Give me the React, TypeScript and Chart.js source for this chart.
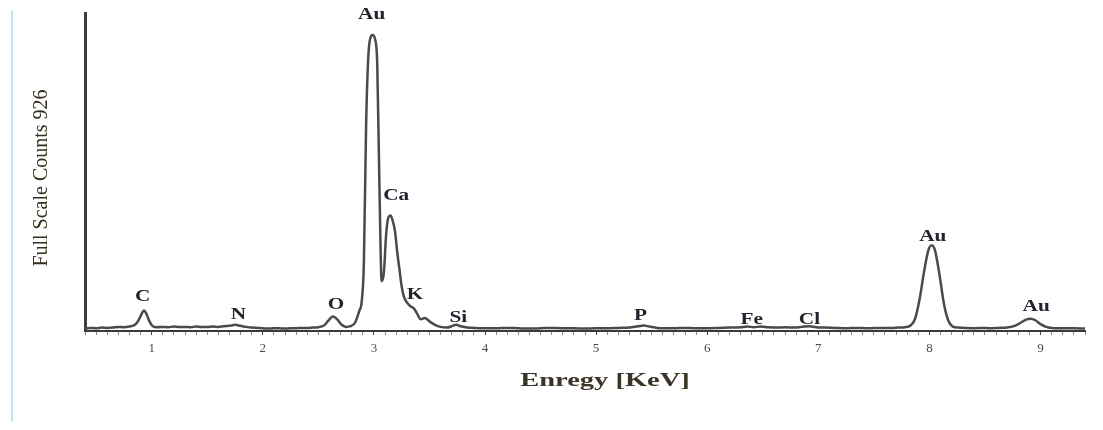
import React, { useEffect, useRef } from 'react';
import { Chart, registerables } from 'chart.js';

Chart.register(...registerables);

// Spectrum: energy (keV) and counts
const energy = [
  0.40, 0.45, 0.50, 0.55, 0.60, 0.65, 0.70, 0.75, 0.80, 0.85, 0.88, 0.91, 0.93, 0.95, 0.98,
  1.01, 1.05, 1.10, 1.15, 1.20, 1.25, 1.30, 1.35, 1.40, 1.45, 1.50, 1.55, 1.60, 1.65, 1.70,
  1.75, 1.80, 1.85, 1.90, 1.95, 2.00, 2.05, 2.10, 2.15, 2.20, 2.25, 2.30, 2.35, 2.40, 2.45,
  2.50, 2.55, 2.59, 2.63, 2.67, 2.71, 2.75, 2.79, 2.83, 2.87, 2.89, 2.91, 2.93, 2.95, 2.97,
  2.99, 3.01, 3.03, 3.05, 3.07, 3.09, 3.11, 3.13, 3.15, 3.17, 3.19, 3.21, 3.23, 3.25, 3.27,
  3.30, 3.33, 3.36, 3.39, 3.42, 3.46, 3.50, 3.55, 3.60, 3.66, 3.70, 3.74, 3.78, 3.84, 3.90,
  3.96, 4.10, 4.20, 4.30, 4.40, 4.50, 4.60, 4.70, 4.80, 4.90, 5.00, 5.10, 5.20, 5.30, 5.38,
  5.43, 5.48, 5.55, 5.60, 5.70, 5.80, 5.90, 6.00, 6.10, 6.20, 6.30, 6.36, 6.42, 6.48, 6.55,
  6.62, 6.70, 6.78, 6.85, 6.92, 6.98, 7.05, 7.15, 7.25, 7.35, 7.45, 7.55, 7.65, 7.72, 7.78,
  7.83, 7.87, 7.91, 7.95, 7.99, 8.02, 8.05, 8.09, 8.13, 8.17, 8.21, 8.26, 8.32, 8.40, 8.48,
  8.55, 8.62, 8.70, 8.76, 8.82, 8.87, 8.91, 8.95, 9.00, 9.05, 9.10, 9.20, 9.30, 9.40,
];
const counts = [
  7, 9, 8, 10, 9, 10, 12, 11, 13, 18, 30, 50, 60, 52, 28,
  14, 11, 12, 11, 13, 12, 12, 11, 13, 12, 12, 13, 12, 14, 15,
  18, 15, 12, 10, 9, 8, 7, 8, 8, 7, 8, 8, 9, 9, 10,
  11, 16, 30, 42, 34, 18, 12, 14, 24, 60, 85, 200, 600, 800, 855,
  862, 850, 780, 420, 145, 170, 280, 330, 336, 320, 290, 230, 180, 130, 100,
  82, 72, 66, 50, 34, 38, 28, 18, 12, 10, 14, 18, 14, 10, 9,
  8, 8, 9, 8, 7, 8, 9, 8, 8, 7, 8, 8, 9, 10, 14,
  16, 13, 9, 8, 8, 9, 8, 8, 9, 10, 11, 13, 11, 13, 11,
  10, 11, 10, 12, 14, 11, 10, 9, 8, 9, 8, 9, 9, 10, 11,
  16, 35, 90, 170, 235, 250, 235, 165, 80, 30, 13, 10, 9, 8, 9,
  8, 9, 10, 14, 24, 33, 36, 32, 20, 12, 9, 8, 8, 7,
];

// Element labels: text, energy (keV), height (counts)
const peakLabels = ['C', 'N', 'O', 'Au', 'Ca', 'K', 'Si', 'P', 'Fe', 'Cl', 'Au', 'Au'];
const labelEnergy = [0.92, 1.78, 2.66, 2.98, 3.2, 3.37, 3.76, 5.4, 6.4, 6.92, 8.03, 8.96];
const labelCounts = [99, 47, 76, 922, 393, 105, 38, 44, 32, 32, 276, 70];

const xTickLabels = ['1', '2', '3', '4', '5', '6', '7', '8', '9'];
const xMin = 0.4;
const xMax = 9.4;
const yMax = 926;
const yTitle = 'Full Scale Counts 926';
const xTitle = 'Enregy [KeV]';

const SERIF = '"Liberation Serif", "DejaVu Serif", serif';
const isWhole = (v: number) => Math.abs(v - Math.round(v)) < 1e-6;

function stretchedText(ctx: CanvasRenderingContext2D, text: string, x: number, y: number, sx: number) {
  ctx.save();
  ctx.translate(x, y);
  ctx.scale(sx, 1);
  ctx.fillText(text, 0, 0);
  ctx.restore();
}

const annotatePlugin = {
  id: 'annotate',
  beforeDraw(chart: any) {
    const ctx = chart.ctx;
    ctx.save();
    ctx.fillStyle = '#ffffff';
    ctx.fillRect(0, 0, chart.width, chart.height);
    ctx.strokeStyle = '#c4e2f0';
    ctx.lineWidth = 2;
    ctx.beginPath();
    ctx.moveTo(12, 10);
    ctx.lineTo(12, 422);
    ctx.stroke();
    ctx.restore();
  },
  afterDraw(chart: any) {
    const ctx = chart.ctx;
    const xs = chart.scales.x;
    const ys = chart.scales.y;
    const area = chart.chartArea;
    ctx.save();
    ctx.font = `bold 17px ${SERIF}`;
    ctx.fillStyle = '#23232e';
    ctx.textAlign = 'center';
    ctx.textBaseline = 'middle';
    peakLabels.forEach((t, i) => {
      stretchedText(ctx, t, xs.getPixelForValue(labelEnergy[i]), ys.getPixelForValue(labelCounts[i]), 1.25);
    });
    // y title
    ctx.save();
    ctx.translate(area.left - 43, 178);
    ctx.rotate(-Math.PI / 2);
    ctx.font = `20px ${SERIF}`;
    ctx.fillStyle = '#35301c';
    ctx.fillText(yTitle, 0, 0);
    ctx.restore();
    // x title
    ctx.font = `bold 19px ${SERIF}`;
    ctx.fillStyle = '#3a3526';
    stretchedText(ctx, xTitle, 605, 381, 1.5);
    ctx.restore();
  },
};

export default function App() {
  const canvasRef = useRef<HTMLCanvasElement | null>(null);

  useEffect(() => {
    document.body.style.margin = '0';
    const canvas = canvasRef.current;
    if (!canvas) return;
    const chart = new Chart(canvas, {
      type: 'line',
      data: {
        datasets: [
          {
            data: energy.map((e, i) => ({ x: e, y: counts[i] })),
            borderColor: '#4a4a4a',
            borderWidth: 2.5,
            pointRadius: 0,
            fill: false,
            cubicInterpolationMode: 'monotone',
          },
        ],
      },
      options: {
        animation: false,
        responsive: false,
        maintainAspectRatio: false,
        layout: { padding: { left: 0, right: 18, top: 13, bottom: 0 } },
        plugins: {
          legend: { display: false },
          tooltip: { enabled: false },
        },
        scales: {
          x: {
            type: 'linear',
            min: xMin,
            max: xMax,
            afterFit: (scale: any) => {
              scale.height = 99;
            },
            border: { display: true, color: '#3a3a3a', width: 2 },
            grid: {
              display: true,
              drawOnChartArea: false,
              drawTicks: true,
              tickLength: 4,
              tickColor: (c: any) => (c.tick && isWhole(c.tick.value) ? '#444' : '#888'),
            },
            ticks: {
              stepSize: 0.1,
              autoSkip: false,
              maxRotation: 0,
              maxTicksLimit: 200,
              padding: 6,
              color: '#4a4a4a',
              font: { family: SERIF, size: 13 },
              callback: (v: any) => {
                const n = Number(v);
                if (!isWhole(n)) return '';
                const k = Math.round(n);
                return xTickLabels[k - 1] ?? '';
              },
            },
          },
          y: {
            type: 'linear',
            min: 0,
            max: yMax,
            afterFit: (scale: any) => {
              scale.width = 85;
            },
            border: { display: true, color: '#3c3c3c', width: 3 },
            grid: { display: false },
            ticks: { display: false },
          },
        },
      },
      plugins: [annotatePlugin],
    } as any);
    return () => chart.destroy();
  }, []);

  return (
    <div style={{ width: 1103, height: 430, background: '#fff' }}>
      <canvas ref={canvasRef} width={1103} height={430} style={{ display: 'block' }} />
    </div>
  );
}
